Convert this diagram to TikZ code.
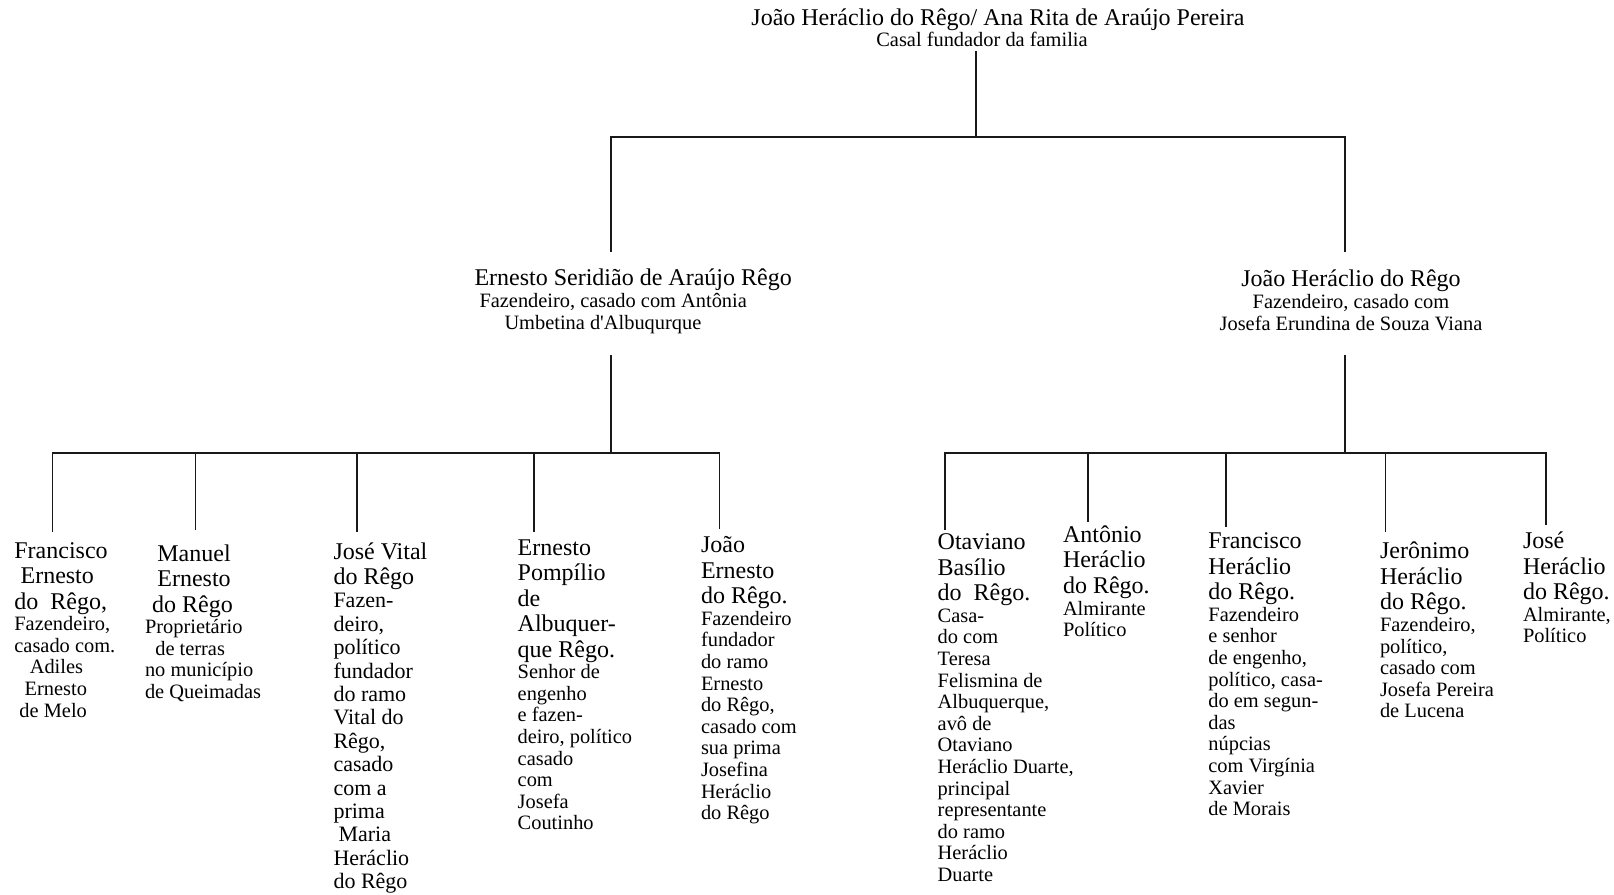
\documentclass[tikz,border=0pt]{standalone}
\usepackage{fontspec}
\setmainfont{Liberation Serif}
% same face without the TeX quote mapping, for a straight apostrophe
\newfontfamily\plainserif{Liberation Serif}[Ligatures=TeXOff]

% type sizes for names and for the short descriptions
\newcommand\namesize{\fontsize{24}{25.5}\selectfont}
\newcommand\descsize{\fontsize{20.4}{21.6}\selectfont}
\newcommand\widesize{\fontsize{22}{23.4}\selectfont}

% one line of a stacked label; optional argument = indent in pt
\newcommand\NameLn[2][0]{\baselineskip=25.5pt\relax\hbox{\namesize\kern#1pt\relax #2}}
\newcommand\DescLn[2][0]{\baselineskip=21.6pt\relax\hbox{\descsize\kern#1pt\relax #2}}
\newcommand\WideLn[2][0]{\baselineskip=23.4pt\relax\hbox{\widesize\kern#1pt\relax #2}}
% centred lines of a given width
\newcommand\NameC[2]{\baselineskip=25.5pt\relax\hbox to #1{\namesize\hfil #2\hfil}}
\newcommand\DescC[2]{\baselineskip=21.6pt\relax\hbox to #1{\descsize\hfil #2\hfil}}
% straight apostrophe
\newcommand\apos{{\plainserif '}}

\tikzset{
  person/.style={anchor=base west, inner sep=0pt, outer sep=0pt, text=black},
  centred/.style={anchor=base, inner sep=0pt, outer sep=0pt, text=black},
  link/.style={draw=black!90, line width=1.3pt}
}

\begin{document}
\begin{tikzpicture}[x=1pt, y=-1pt]
\useasboundingbox (0,0) rectangle (1614,894);

% ---- founders ----
\node[centred] (root) at (998,25.4) {\vtop{%
  \NameC{560pt}{João Heráclio do Rêgo/ Ana Rita de Araújo Pereira}
  \DescC{560pt}{Casal fundador da familia\kern32pt}}};

% ---- second generation ----
\node[person] (ers) at (474.5,285) {\vtop{%
  \NameLn{Ernesto Seridião de Araújo Rêgo}
  \baselineskip=22.4pt\relax\hbox{\descsize\kern5pt Fazendeiro, casado com Antônia}
  \DescLn[30]{Umbetina d\apos Albuqurque}}};

\node[centred] (jhr) at (1351,286) {\vtop{%
  \NameC{330pt}{João Heráclio do Rêgo}
  \baselineskip=22.4pt\relax\hbox to 330pt{\descsize\hfil Fazendeiro, casado com\hfil}
  \DescC{330pt}{Josefa Erundina de Souza Viana}}};

% ---- third generation, branch of Ernesto Seridião ----
\node[person] (fe) at (14.4,558) {\vtop{%
  \NameLn{Francisco}
  \NameLn[6.2]{Ernesto}
  \NameLn{do\ \ Rêgo,}
  \DescLn{Fazendeiro,}
  \DescLn{casado com.}
  \DescLn[15.4]{Adiles}
  \DescLn[10.3]{Ernesto}
  \DescLn[5.1]{de Melo}}};

\node[person] (me) at (145,561) {\vtop{%
  \NameLn[12.4]{Manuel}
  \NameLn[12.4]{Ernesto}
  \NameLn[7.2]{do Rêgo}
  \DescLn{Proprietário}
  \DescLn[10.3]{de terras}
  \DescLn{no município}
  \DescLn{de Queimadas}}};

\node[person] (jv) at (333.5,559) {\vtop{%
  \NameLn{José Vital}
  \NameLn{do Rêgo}
  \WideLn{Fazen-}
  \WideLn{deiro,}
  \WideLn{político}
  \WideLn{fundador}
  \WideLn{do ramo}
  \WideLn{Vital do}
  \WideLn{Rêgo,}
  \WideLn{casado}
  \WideLn{com a}
  \WideLn{prima}
  \WideLn[5]{Maria}
  \WideLn{Heráclio}
  \WideLn{do Rêgo}}};

\node[person] (ep) at (517.7,555) {\vtop{%
  \NameLn{Ernesto}
  \NameLn{Pompílio}
  \NameLn{de}
  \NameLn{Albuquer-}
  \NameLn{que Rêgo.}
  \DescLn{Senhor de}
  \DescLn{engenho}
  \DescLn{e fazen-}
  \DescLn{deiro, político}
  \DescLn{casado}
  \DescLn{com}
  \DescLn{Josefa}
  \DescLn{Coutinho}}};

\node[person] (je) at (701,552.7) {\vtop{%
  \NameLn{João}
  \NameLn{Ernesto}
  \NameLn{do Rêgo.}
  \DescLn{Fazendeiro}
  \DescLn{fundador}
  \DescLn{do ramo}
  \DescLn{Ernesto}
  \DescLn{do Rêgo,}
  \DescLn{casado com}
  \DescLn{sua prima}
  \DescLn{Josefina}
  \DescLn{Heráclio}
  \DescLn{do Rêgo}}};

% ---- third generation, branch of João Heráclio ----
\node[person] (ob) at (937.7,549.6) {\vtop{%
  \NameLn{Otaviano}
  \NameLn{Basílio}
  \NameLn{do\ \ Rêgo.}
  \DescLn{Casa-}
  \DescLn{do com}
  \DescLn{Teresa}
  \DescLn{Felismina de}
  \DescLn{Albuquerque,}
  \DescLn{avô de}
  \DescLn{Otaviano}
  \DescLn{Heráclio Duarte,}
  \DescLn{principal}
  \DescLn{representante}
  \DescLn{do ramo}
  \DescLn{Heráclio}
  \DescLn{Duarte}}};

\node[person] (ah) at (1063,542.4) {\vtop{%
  \NameLn{Antônio}
  \NameLn{Heráclio}
  \NameLn{do Rêgo.}
  \DescLn{Almirante}
  \DescLn{Político}}};

\node[person] (fh) at (1208.4,548.6) {\vtop{%
  \NameLn{Francisco}
  \NameLn{Heráclio}
  \NameLn{do Rêgo.}
  \DescLn{Fazendeiro}
  \DescLn{e senhor}
  \DescLn{de engenho,}
  \DescLn{político, casa-}
  \DescLn{do em segun-}
  \DescLn{das}
  \DescLn{núpcias}
  \DescLn{com Virgínia}
  \DescLn{Xavier}
  \DescLn{de Morais}}};

\node[person] (jh) at (1380,558.9) {\vtop{%
  \NameLn{Jerônimo}
  \NameLn{Heráclio}
  \NameLn{do Rêgo.}
  \DescLn{Fazendeiro,}
  \DescLn{político,}
  \DescLn{casado com}
  \DescLn{Josefa Pereira}
  \DescLn{de Lucena}}};

\node[person] (jo) at (1523,548.6) {\vtop{%
  \NameLn{José}
  \NameLn{Heráclio}
  \NameLn{do Rêgo.}
  \DescLn{Almirante,}
  \DescLn{Político}}};

% ---- connection points ----
\coordinate (root-b) at (976,51);
\coordinate (bar0)   at (976,137);
\coordinate (ers-t)  at (611,252);
\coordinate (jhr-t)  at (1345,252);
\coordinate (ers-b)  at (611,355);
\coordinate (jhr-b)  at (1345,355);
\coordinate (bar1)   at (611,453);
\coordinate (bar2)   at (1345,453);
\coordinate (fe-t) at (52.5,532);
\coordinate (me-t) at (195.6,530);
\coordinate (jv-t) at (357,532);
\coordinate (ep-t) at (534,532);
\coordinate (je-t) at (719.5,529);
\coordinate (ob-t) at (945,530);
\coordinate (ah-t) at (1088,522);
\coordinate (fh-t) at (1226,527);
\coordinate (jh-t) at (1385.5,532);
\coordinate (jo-t) at (1546,525);

% ---- connectors ----
\draw[link] (root-b) -- (bar0);
\draw[link] (bar0) -| (ers-t);
\draw[link] (bar0) -| (jhr-t);
\draw[link] (ers-b) -- (bar1);
\draw[link] (jhr-b) -- (bar2);
\foreach \c in {fe,me,jv,ep,je} \draw[link] (bar1) -| (\c-t);
\foreach \c in {ob,ah,fh,jh,jo} \draw[link] (bar2) -| (\c-t);
\end{tikzpicture}
\end{document}
